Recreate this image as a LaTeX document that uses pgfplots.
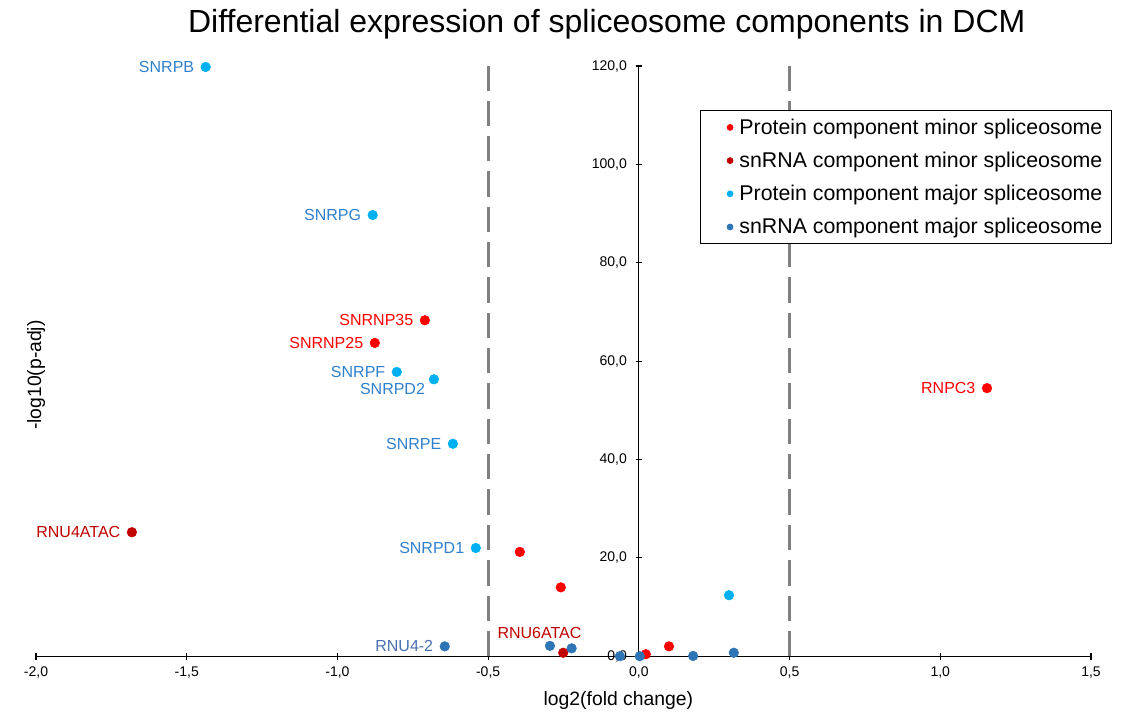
\documentclass[border=0pt]{standalone}
\usepackage{fontspec}
\setmainfont{Liberation Sans}
\usepackage{pgfplots}
\pgfplotsset{compat=1.18}
\usetikzlibrary{calc}
\definecolor{protminor}{HTML}{FF0000}
\definecolor{rnaminor}{HTML}{C00000}
\definecolor{protmajor}{HTML}{00B0F0}
\definecolor{rnamajor}{HTML}{2E75B6}
\definecolor{lblmajor}{HTML}{2F80CD}
\definecolor{lblrna}{HTML}{4A6FB0}
\definecolor{dashgray}{HTML}{808080}

\begin{document}
\begin{tikzpicture}
\begin{axis}[
  scale only axis, width=791pt, height=442.5pt,
  axis lines=middle, clip=false,
  xmin=-2, xmax=1.5, ymin=0, ymax=120,
  xtick={-2,-1.5,...,1.5}, ytick={0,20,...,120},
  hide obscured x ticks=false, hide obscured y ticks=false,
  tick align=center, major tick length=5pt,
  every tick/.style={black, line width=0.8pt},
  axis line style={line width=0.9pt, -},
  /pgf/number format/.cd, fixed, fixed zerofill, precision=1, use comma, assume math mode=true,
  /pgfplots/.cd,
  ticklabel style={font=\fontsize{10.5}{12}\selectfont},
  xticklabel style={yshift=-2pt},
  yticklabel style={xshift=-3pt},
  title={Differential expression of spliceosome components in DCM},
  title style={at={(rel axis cs:0.541,1)}, anchor=center, yshift=25.5pt, font=\fontsize{24}{28}\selectfont},
  xlabel={log2(fold change)},
  xlabel style={at={(rel axis cs:0.552,0)}, anchor=center, yshift=-33pt, font=\fontsize{14.5}{17}\selectfont},
  ylabel={-log10(p-adj)},
  ylabel style={at={(rel axis cs:0,0.5)}, anchor=center, rotate=90, xshift=-10.5pt, font=\fontsize{14.5}{17}\selectfont},
  legend style={at={(rel axis cs:1.02,0.925)}, anchor=north east, draw=black, line width=0.6pt,
    font=\fontsize{16}{19}\selectfont, row sep=7.8pt, inner xsep=5pt, inner ysep=4pt},
  legend cell align=left,
  legend image code/.code={\path[draw=none] (0pt,0pt) (22pt,0pt); \path[#1, draw=none] plot[mark=*, mark size=2.2pt] coordinates {(17pt,0pt)};},
]
\addplot[dashgray, line width=2.2pt, dash pattern=on 19pt off 7.5pt, forget plot] coordinates {(-0.5,0) (-0.5,120)};
\addplot[dashgray, line width=2.2pt, dash pattern=on 19pt off 7.5pt, forget plot] coordinates {(0.5,0) (0.5,120)};

\addplot[only marks, mark=*, mark size=3.6pt, protminor, mark options={draw=protminor, fill=protminor}] coordinates {
  (-0.710,68.3) (-0.876,63.7) (1.155,54.5) (-0.395,21.2) (-0.259,14.0) (0.023,0.4) (0.100,2.0)};
\addlegendentry{Protein component minor spliceosome}
\addplot[only marks, mark=*, mark size=3.6pt, rnaminor, mark options={draw=rnaminor, fill=rnaminor}] coordinates {
  (-1.682,25.2) (-0.251,0.7)};
\addlegendentry{snRNA component minor spliceosome}
\addplot[only marks, mark=*, mark size=3.6pt, protmajor, mark options={draw=protmajor, fill=protmajor}] coordinates {
  (-1.437,119.8) (-0.883,89.7) (-0.803,57.8) (-0.680,56.3) (-0.617,43.2) (-0.541,22.0) (0.299,12.4)};
\addlegendentry{Protein component major spliceosome}
\addplot[only marks, mark=*, mark size=3.6pt, rnamajor, mark options={draw=rnamajor, fill=rnamajor}] coordinates {
  (-0.644,2.0) (-0.295,2.1) (-0.223,1.6) (-0.063,0) (0.003,0) (0.180,0.05) (0.315,0.7)};
\addlegendentry{snRNA component major spliceosome}

\begin{scope}[every node/.style={font=\fontsize{12}{14}\selectfont, anchor=east, inner sep=0pt, xshift=-8.5pt}]
\node[text=lblmajor] at (axis cs:-1.437,119.8) {SNRPB};
\node[text=lblmajor] at (axis cs:-0.883,89.7) {SNRPG};
\node[text=protminor] at (axis cs:-0.710,68.3) {SNRNP35};
\node[text=protminor] at (axis cs:-0.876,63.7) {SNRNP25};
\node[text=lblmajor] at (axis cs:-0.803,57.8) {SNRPF};
\node[text=lblmajor, yshift=-7.5pt, xshift=2pt] at (axis cs:-0.680,56.3) {SNRPD2};
\node[text=lblmajor] at (axis cs:-0.617,43.2) {SNRPE};
\node[text=rnaminor] at (axis cs:-1.682,25.2) {RNU4ATAC};
\node[text=lblmajor] at (axis cs:-0.541,22.0) {SNRPD1};
\node[text=protminor] at (axis cs:1.155,54.5) {RNPC3};
\node[text=lblrna] at (axis cs:-0.644,2.0) {RNU4-2};
\node[text=rnaminor, anchor=center, xshift=0pt] at (axis cs:-0.292,4.7) {RNU6ATAC};
\end{scope}

\coordinate (bl) at (rel axis cs:0,0);
\coordinate (tr) at (rel axis cs:1,1);
\end{axis}
\pgfresetboundingbox
\path[use as bounding box] ($(bl)+(-27pt,-43pt)$) rectangle ($(tr)+(27pt,49.5pt)$);
\end{tikzpicture}
\end{document}
